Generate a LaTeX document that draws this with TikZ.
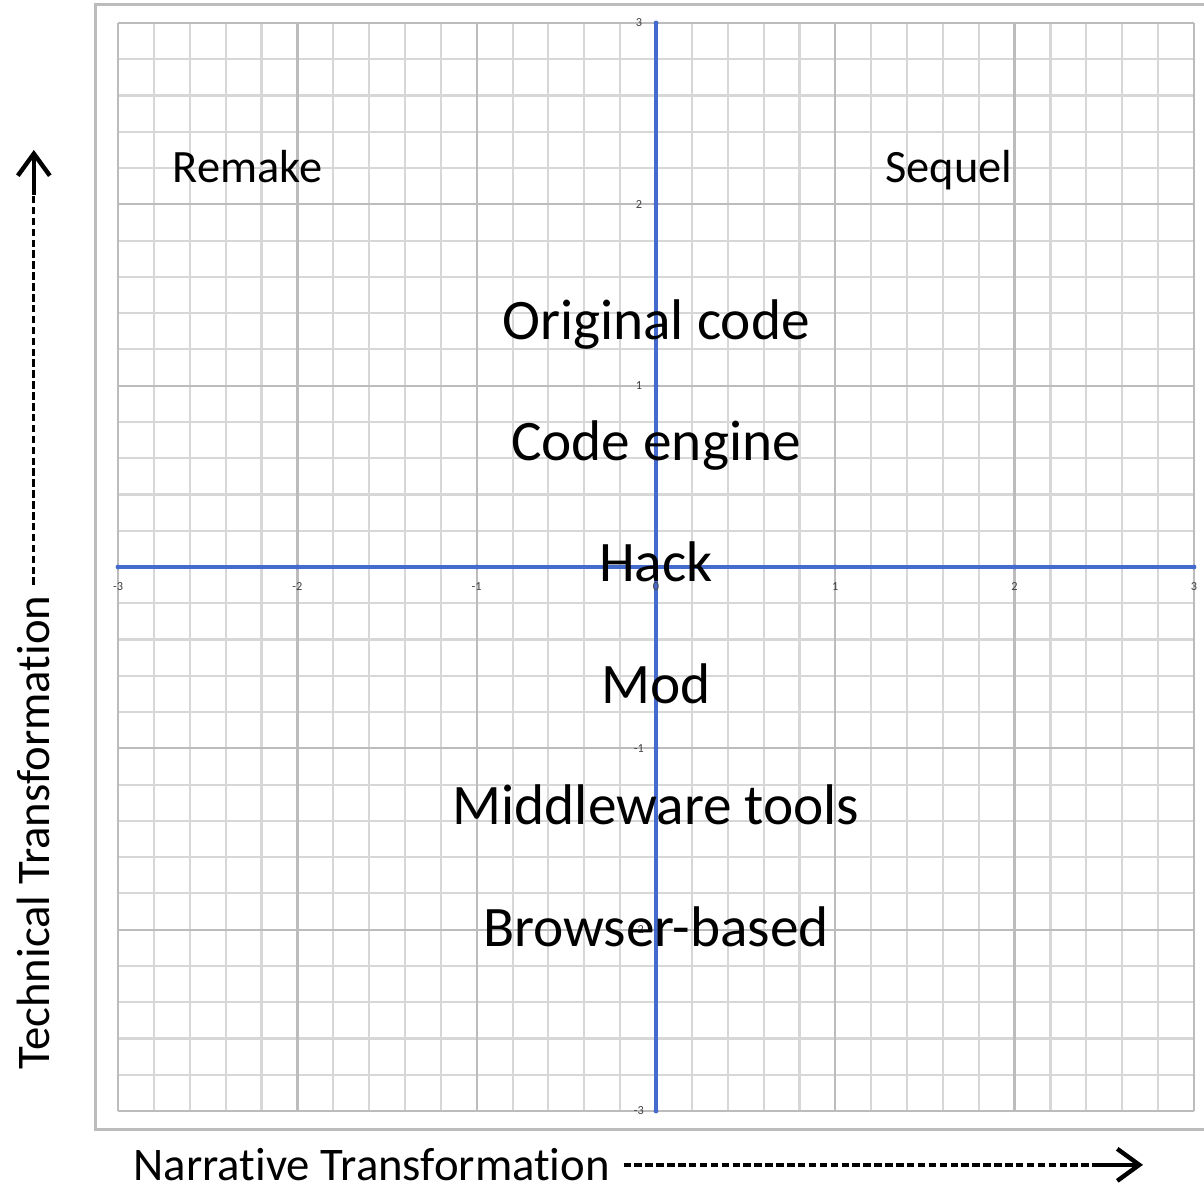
\documentclass[tikz,border=0pt]{standalone}
\usepackage{fontspec}
\setmainfont{Carlito}[Ligatures=NoCommon]
\usepackage{tikz}
\usetikzlibrary{arrows.meta,
                positioning}
\definecolor{axisblue}{RGB}{68,106,206}
\definecolor{gridminor}{RGB}{215,215,215}
\definecolor{gridmajor}{RGB}{188,188,188}

\begin{document}
\begin{tikzpicture}[
        x=1.793cm, y=1.8133cm,
        node distance=0.6cm,
        every node/.style={inner sep=0pt},
        biglabel/.style={font=\fontsize{16.3}{19}\selectfont, text height=0.45cm, text depth=0.15cm},
        cornerlabel/.style={font=\fontsize{13.2}{16}\selectfont, anchor=base},
        axislabel/.style={font=\fontsize{13.3}{16}\selectfont},
        ticklabel/.style={font=\fontsize{3.5}{4}\selectfont, text=black!75},
        dashline/.style={line width=0.95pt, dash pattern=on 0.075cm off 0.034cm},
        headline/.style={line width=1.25pt, -{Straight Barb[length=0.22cm, width=0.32cm]}}
        ]

        % Page and frame
        \useasboundingbox[fill=white] (-3.6587,-3.4137) rectangle (3.0563,3.1269);
        \draw[gridmajor, line width=0.8pt] (-3.125,-3.1) rectangle (3.3,3.1);

        % Grid
        \draw[gridminor, line width=0.6pt, step=0.2] (-3,-3) grid (3.001,3.001);
        \draw[gridmajor, line width=0.65pt, step=1] (-3,-3) grid (3,3);

        % Axes
        \draw[axisblue, line width=1.05pt] (-3,0) -- (3,0);
        \draw[axisblue, line width=1.05pt] (0,-3) -- (0,3);
        \foreach \t in {-3,...,3} {
            \fill[axisblue] (\t,0) circle (0.7pt);
            \fill[axisblue] (0,\t) circle (0.7pt);
        }
        \foreach \t [count=\i] in {-3,...,3}
            \node[ticklabel] (xtick\i) at (\t,-0.11) {\t};
        \foreach \t [count=\i] in {-3,-2,-1,1,2,3}
            \node[ticklabel] (ytick\i) at (-0.095,\t) {\t};

        % Nodes
        \node[cornerlabel] (remake) at (-2.278,2.123) {Remake};
        \node[cornerlabel] (sequel) at (1.634,2.123) {Sequel};

        \node[biglabel, anchor=base] (origcode) at (0,1.257) {Original code};
        \node[biglabel, below=of origcode] (engine) {Code engine};
        \node[biglabel, below=of engine] (hack) {Hack};
        \node[biglabel, below=of hack] (mod) {Mod};
        \node[biglabel, below=of mod] (middleware) {Middleware tools};
        \node[biglabel, below=of middleware] (browser) {Browser-based};

        \node[axislabel, anchor=west] (narrative) at (-2.917,-3.297) {Narrative Transformation};
        \node[axislabel, anchor=west, rotate=90] (technical) at (-3.47,-2.774) {Technical Transformation};
        \coordinate (narrativedash) at (2.46,-3.297);
        \coordinate (narrativetip) at (2.716,-3.297);
        \coordinate (technicaldash) at (-3.47,2.052);
        \coordinate (technicaltip) at (-3.47,2.300);

        % Arrows
        \draw[dashline, shorten <=0.13cm] (narrative) -- (narrativedash);
        \draw[headline] (narrativedash) -- (narrativetip);
        \draw[dashline, shorten <=0.1cm] (technical) -- (technicaldash);
        \draw[headline] (technicaldash) -- (technicaltip);

        \end{tikzpicture}
\end{document}
